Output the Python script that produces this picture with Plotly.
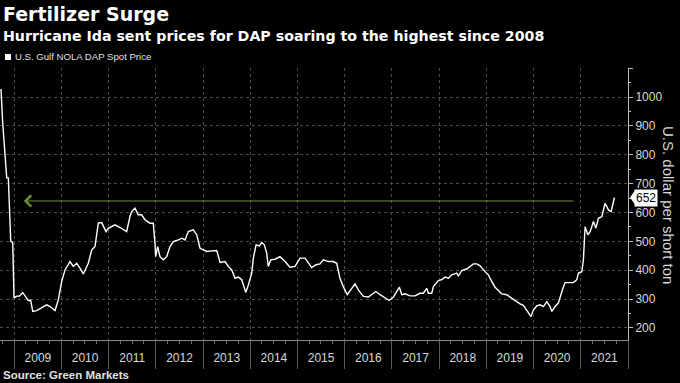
import plotly.graph_objects as go
import pandas as pd

# decimal years and DAP spot prices, USD per short ton
years = [2008.718, 2008.754, 2008.839, 2008.873, 2008.924, 2008.966, 2008.994, 2009.051, 2009.106, 2009.178,
         2009.227, 2009.297, 2009.347, 2009.390, 2009.475, 2009.581, 2009.686, 2009.756, 2009.862, 2009.932,
         2010.004, 2010.074, 2010.180, 2010.250, 2010.322, 2010.392, 2010.462, 2010.568, 2010.640, 2010.710,
         2010.780, 2010.852, 2010.943, 2010.992, 2011.133, 2011.239, 2011.381, 2011.451, 2011.487, 2011.557,
         2011.593, 2011.627, 2011.699, 2011.769, 2011.875, 2011.945, 2011.981, 2011.996, 2012.038, 2012.087,
         2012.157, 2012.229, 2012.299, 2012.369, 2012.475, 2012.547, 2012.616, 2012.686, 2012.792, 2012.864,
         2012.934, 2013.004, 2013.076, 2013.182, 2013.288, 2013.358, 2013.464, 2013.534, 2013.606, 2013.676,
         2013.746, 2013.818, 2013.903, 2013.958, 2014.030, 2014.064, 2014.121, 2014.191, 2014.242, 2014.297,
         2014.347, 2014.381, 2014.432, 2014.523, 2014.629, 2014.735, 2014.841, 2014.947, 2015.053, 2015.159,
         2015.229, 2015.301, 2015.392, 2015.477, 2015.547, 2015.653, 2015.758, 2015.831, 2015.900, 2015.970,
         2016.055, 2016.133, 2016.218, 2016.288, 2016.394, 2016.500, 2016.572, 2016.657, 2016.748, 2016.854,
         2016.939, 2017.030, 2017.102, 2017.157, 2017.208, 2017.278, 2017.383, 2017.489, 2017.595, 2017.665,
         2017.737, 2017.771, 2017.843, 2017.877, 2017.983, 2018.055, 2018.125, 2018.195, 2018.267, 2018.373,
         2018.407, 2018.479, 2018.585, 2018.655, 2018.725, 2018.797, 2018.867, 2018.972, 2019.042, 2019.114,
         2019.184, 2019.254, 2019.326, 2019.432, 2019.538, 2019.644, 2019.714, 2019.784, 2019.856, 2019.947,
         2019.996, 2020.068, 2020.138, 2020.208, 2020.280, 2020.350, 2020.386, 2020.456, 2020.525, 2020.561,
         2020.610, 2020.667, 2020.737, 2020.843, 2020.915, 2020.949, 2021.021, 2021.055, 2021.076, 2021.091,
         2021.148, 2021.197, 2021.233, 2021.267, 2021.318, 2021.373, 2021.445, 2021.479, 2021.515, 2021.551,
         2021.585, 2021.642, 2021.669, 2021.712]
prices = [1028, 911, 720, 720, 500, 495, 304, 310, 310, 322,
          311, 295, 296, 257, 260, 269, 280, 274, 260, 297,
          361, 401, 430, 413, 424, 407, 387, 424, 470, 482,
          563, 565, 534, 545, 557, 548, 534, 586, 603, 615,
          603, 592, 592, 575, 563, 563, 494, 447, 482, 447,
          436, 447, 482, 499, 505, 511, 505, 534, 540, 523,
          476, 470, 465, 467, 468, 427, 430, 413, 401, 372,
          376, 367, 323, 349, 390, 442, 488, 484, 496, 488,
          459, 413, 436, 438, 447, 430, 410, 413, 442, 442,
          424, 409, 419, 422, 436, 430, 430, 424, 372, 343,
          315, 332, 353, 332, 309, 307, 315, 326, 315, 303,
          295, 307, 326, 341, 315, 318, 311, 311, 320, 320,
          337, 320, 320, 343, 364, 367, 376, 372, 384, 390,
          380, 399, 404, 413, 422, 422, 415, 395, 384, 361,
          341, 330, 318, 315, 303, 288, 283, 278, 260, 239,
          262, 276, 280, 274, 291, 274, 257, 274, 286, 309,
          332, 357, 357, 357, 367, 390, 395, 436, 505, 551,
          523, 534, 551, 569, 546, 580, 586, 615, 632, 621,
          609, 603, 621, 652]

last_price = prices[-1]
arrow_level = 640
arrow_from = 2020.88
arrow_to = 2009.2

y_tickvals = [200, 300, 400, 500, 600, 700, 800, 900, 1000, 1100]
y_ticktext = ["200", "300", "400", "500", "600", "700", "800", "900", "1000", ""]


def to_date(t):
    y = int(t)
    start = pd.Timestamp(year=y, month=1, day=1)
    end = pd.Timestamp(year=y + 1, month=1, day=1)
    return start + (end - start) * (t - y)


dates = [to_date(t) for t in years]

FONT = "Liberation Sans"
BOLD = "DejaVu Sans"
W, H = 680, 383
L, R, T, B = 0, 52, 68, 43
PH = H - T - B
PW = W - L - R


def py(pix):  # pixel y -> paper y
    return (H - B - pix) / PH


def px(pix):  # pixel x -> paper x
    return (pix - L) / PW


fig = go.Figure()
fig.add_trace(go.Scatter(x=dates, y=prices, mode="lines",
                         line=dict(color="#ffffff", width=1.4),
                         hoverinfo="skip", showlegend=False))

fig.update_layout(
    width=W, height=H,
    margin=dict(l=L, r=R, t=T, b=B, autoexpand=False),
    paper_bgcolor="#000000", plot_bgcolor="#000000",
    font=dict(family=FONT, color="#d8d8d8", size=12),
    showlegend=False,
    xaxis=dict(
        type="date", automargin=False,
        range=[to_date(2008.697), to_date(2022.0)],
        dtick="M12", tick0="2009-01-01", tickformat="%Y",
        ticklabelmode="period",
        ticks="outside", ticklen=28, tickcolor="#5a5a5a", tickwidth=1,
        ticklabelstandoff=-21,
        tickfont=dict(size=12, color="#d8d8d8"),
        showline=True, linecolor="#8a8a8a", linewidth=1,
        showgrid=True, gridcolor="#4a4a4a", griddash="dot", gridwidth=1,
        zeroline=False,
        minor=dict(dtick="M3", ticks="outside", ticklen=3, tickcolor="#6a6a6a", showgrid=False),
    ),
    yaxis=dict(
        side="right", automargin=False,
        range=[158, 1101],
        tickmode="array", tickvals=y_tickvals, ticktext=y_ticktext,
        ticks="outside", ticklen=4, tickcolor="#bbbbbb",
        tickfont=dict(size=12, color="#d8d8d8"),
        showline=True, linecolor="#bbbbbb", linewidth=1,
        showgrid=True, gridcolor="#4a4a4a", griddash="dot", gridwidth=1,
        zeroline=False,
        minor=dict(tickmode="linear", tick0=0, dtick=50, ticks="outside", ticklen=2,
                   tickcolor="#bbbbbb", showgrid=False),
    ),
)

# green arrow pointing back to the last time prices were this high
fig.add_annotation(
    x=to_date(arrow_to), y=arrow_level, ax=to_date(arrow_from), ay=arrow_level,
    xref="x", yref="y", axref="x", ayref="y", text="",
    showarrow=True, arrowhead=4, arrowsize=2.2, arrowwidth=1, arrowcolor="#6f8f35",
)

# last value label
fig.add_annotation(
    xref="paper", yref="y", x=1, y=last_price, xanchor="left", yanchor="middle",
    xshift=6, text=str(last_price), showarrow=False,
    font=dict(family=FONT, size=12, color="#000000"),
    bgcolor="#ffffff", borderpad=1,
)
fig.add_shape(type="path", xref="paper", yref="y",
              path=f"M {1 + 2/PW},{last_price} L {1 + 7/PW},{last_price + 24} L {1 + 7/PW},{last_price - 24} Z",
              fillcolor="#ffffff", line=dict(width=0))

# axis title (reads top to bottom)
fig.add_annotation(
    xref="paper", yref="paper", x=px(669), y=py(205), text="U.S. dollar per short ton",
    textangle=90, showarrow=False, xanchor="center", yanchor="middle",
    font=dict(family=FONT, size=15, color="#d8d8d8"),
)

# titles
fig.add_annotation(xref="paper", yref="paper", x=px(1), y=py(14), xanchor="left", yanchor="middle",
                   text="<b>Fertilizer Surge</b>", showarrow=False,
                   font=dict(family=BOLD, size=19, color="#ffffff"))
fig.add_annotation(xref="paper", yref="paper", x=px(1), y=py(36), xanchor="left", yanchor="middle",
                   text="<b>Hurricane Ida sent prices for DAP soaring to the highest since 2008</b>",
                   showarrow=False, font=dict(family=BOLD, size=14.2, color="#ffffff"))

# legend
fig.add_shape(type="rect", xref="paper", yref="paper",
              x0=px(5), x1=px(11), y0=py(60), y1=py(54),
              fillcolor="#ffffff", line=dict(width=0))
fig.add_annotation(xref="paper", yref="paper", x=px(13), y=py(57), xanchor="left", yanchor="middle",
                   text="U.S. Gulf NOLA DAP Spot Price", showarrow=False,
                   font=dict(family=FONT, size=9.6, color="#e0e0e0"))

# source
fig.add_annotation(xref="paper", yref="paper", x=px(1), y=py(375), xanchor="left", yanchor="middle",
                   text="<b>Source: Green Markets</b>", showarrow=False,
                   font=dict(family=FONT, size=11.5, color="#e0e0e0"))

fig.write_html("out.html", config={"displayModeBar": False},
               post_script="document.body.style.margin='0px';")
